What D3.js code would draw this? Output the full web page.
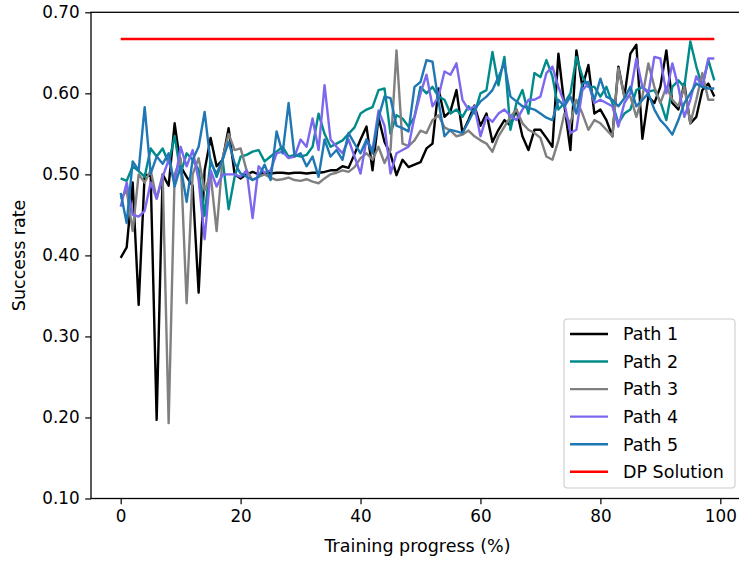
<!DOCTYPE html>
<html>
<head>
<meta charset="utf-8">
<script src="https://cdn.jsdelivr.net/npm/d3@7"></script>
<style>
  body { margin: 0; background: #fff; }
  svg text { font-family: "DejaVu Sans", sans-serif; }
</style>
</head>
<body>
<div id="svgContainer"></div>
<script>
const width = 739;
const height = 561;
const margin = ({top: 12.3, right: -5, bottom: 62.5, left: 91});

const xTicks = [0, 20, 40, 60, 80, 100];
const yTicks = [0.1, 0.2, 0.3, 0.4, 0.5, 0.6, 0.7];
const seriesNames = ["Path 1", "Path 2", "Path 3", "Path 4", "Path 5"];
const dpValue = 0.667;

const path1 = [0.397, 0.410, 0.490, 0.339, 0.500, 0.498, 0.197, 0.500, 0.486, 0.563,
  0.510, 0.497, 0.486, 0.354, 0.505, 0.545, 0.510, 0.518, 0.557, 0.500,
  0.495, 0.500, 0.503, 0.500, 0.502, 0.501, 0.502, 0.502, 0.501, 0.502,
  0.502, 0.501, 0.502, 0.502, 0.503, 0.505, 0.505, 0.510, 0.508, 0.525,
  0.543, 0.559, 0.505, 0.570, 0.540, 0.525, 0.499, 0.518, 0.509, 0.512,
  0.515, 0.532, 0.538, 0.606, 0.571, 0.578, 0.604, 0.551, 0.567, 0.585,
  0.560, 0.575, 0.540, 0.555, 0.567, 0.560, 0.580, 0.547, 0.530, 0.555,
  0.555, 0.545, 0.534, 0.649, 0.585, 0.530, 0.653, 0.608, 0.635, 0.575,
  0.580, 0.567, 0.547, 0.633, 0.596, 0.649, 0.660, 0.544, 0.596, 0.588,
  0.608, 0.653, 0.588, 0.580, 0.612, 0.563, 0.571, 0.604, 0.612, 0.596];

const path2 = [0.495, 0.492, 0.510, 0.504, 0.497, 0.532, 0.522, 0.532, 0.514, 0.547,
  0.501, 0.526, 0.518, 0.506, 0.449, 0.518, 0.497, 0.518, 0.457, 0.497,
  0.522, 0.524, 0.528, 0.530, 0.516, 0.522, 0.528, 0.534, 0.522, 0.524,
  0.522, 0.524, 0.534, 0.575, 0.550, 0.534, 0.538, 0.542, 0.550, 0.558,
  0.575, 0.580, 0.583, 0.604, 0.606, 0.550, 0.573, 0.569, 0.559, 0.571,
  0.608, 0.600, 0.608, 0.596, 0.592, 0.575, 0.580, 0.571, 0.584, 0.575,
  0.600, 0.604, 0.651, 0.610, 0.645, 0.555, 0.588, 0.604, 0.575, 0.625,
  0.620, 0.641, 0.621, 0.580, 0.588, 0.600, 0.645, 0.621, 0.608, 0.608,
  0.596, 0.608, 0.588, 0.563, 0.575, 0.580, 0.604, 0.608, 0.602, 0.604,
  0.590, 0.567, 0.608, 0.616, 0.608, 0.664, 0.633, 0.608, 0.641, 0.616];

const path3 = [0.470, 0.480, 0.430, 0.500, 0.490, 0.505, 0.470, 0.500, 0.193, 0.500,
  0.520, 0.341, 0.500, 0.520, 0.480, 0.500, 0.430, 0.520, 0.550, 0.530,
  0.532, 0.505, 0.493, 0.497, 0.500, 0.496, 0.493, 0.494, 0.496, 0.493,
  0.492, 0.494, 0.491, 0.489, 0.495, 0.500, 0.502, 0.505, 0.503, 0.509,
  0.520, 0.526, 0.518, 0.534, 0.514, 0.530, 0.653, 0.538, 0.535, 0.542,
  0.554, 0.551, 0.567, 0.573, 0.558, 0.554, 0.547, 0.549, 0.554, 0.547,
  0.542, 0.538, 0.528, 0.547, 0.559, 0.571, 0.580, 0.563, 0.555, 0.551,
  0.545, 0.522, 0.518, 0.542, 0.575, 0.563, 0.592, 0.575, 0.555, 0.567,
  0.563, 0.555, 0.547, 0.631, 0.596, 0.596, 0.571, 0.596, 0.637, 0.608,
  0.588, 0.608, 0.592, 0.584, 0.608, 0.563, 0.592, 0.625, 0.592, 0.592];

const path4 = [0.460, 0.490, 0.450, 0.448, 0.455, 0.490, 0.470, 0.497, 0.518, 0.489,
  0.534, 0.510, 0.530, 0.493, 0.420, 0.505, 0.485, 0.500, 0.500, 0.500,
  0.497, 0.505, 0.446, 0.510, 0.502, 0.505, 0.526, 0.528, 0.520, 0.522,
  0.543, 0.534, 0.569, 0.530, 0.610, 0.543, 0.534, 0.526, 0.543, 0.522,
  0.501, 0.543, 0.530, 0.579, 0.560, 0.501, 0.526, 0.530, 0.534, 0.571,
  0.600, 0.623, 0.584, 0.596, 0.627, 0.623, 0.637, 0.592, 0.580, 0.584,
  0.547, 0.571, 0.565, 0.575, 0.580, 0.572, 0.567, 0.580, 0.592, 0.592,
  0.596, 0.625, 0.633, 0.608, 0.588, 0.551, 0.555, 0.604, 0.612, 0.588,
  0.592, 0.588, 0.584, 0.559, 0.588, 0.600, 0.643, 0.608, 0.600, 0.645,
  0.643, 0.600, 0.637, 0.608, 0.571, 0.592, 0.621, 0.608, 0.643, 0.643];

const path5 = [0.477, 0.440, 0.516, 0.505, 0.583, 0.501, 0.522, 0.513, 0.526, 0.485,
  0.510, 0.466, 0.518, 0.534, 0.577, 0.514, 0.501, 0.518, 0.540, 0.514,
  0.501, 0.497, 0.493, 0.497, 0.512, 0.493, 0.553, 0.526, 0.588, 0.522,
  0.526, 0.510, 0.522, 0.497, 0.543, 0.522, 0.530, 0.518, 0.551, 0.538,
  0.526, 0.543, 0.526, 0.570, 0.596, 0.594, 0.560, 0.557, 0.553, 0.608,
  0.614, 0.641, 0.639, 0.590, 0.547, 0.555, 0.553, 0.551, 0.565, 0.580,
  0.590, 0.596, 0.604, 0.620, 0.637, 0.596, 0.590, 0.584, 0.582, 0.580,
  0.575, 0.570, 0.567, 0.592, 0.584, 0.596, 0.575, 0.612, 0.614, 0.592,
  0.618, 0.596, 0.592, 0.584, 0.594, 0.608, 0.584, 0.592, 0.600, 0.580,
  0.567, 0.559, 0.549, 0.567, 0.588, 0.600, 0.612, 0.608, 0.606, 0.606];

const seriesValues = [path1, path2, path3, path4, path5];
const colors = ["#000000", "#008b8b", "#808080", "#7b68ee", "#1f77b4"];
const dpColor = "#ff0000";

const svg = d3.select("#svgContainer").append("svg")
  .attr("width", width)
  .attr("height", height)

const x = d3.scaleLinear()
  .domain([-4.95, 103.95])
  .range([margin.left, width - margin.right])

const y = d3.scaleLinear()
  .domain([0.1, 0.7])
  .range([height - margin.bottom, margin.top])

const xAxis = g => g
  .attr("transform", `translate(0,${height - margin.bottom})`)
  .call(d3.axisBottom(x).tickValues(xTicks).tickSize(5.8).tickPadding(5.5).tickSizeOuter(0))

const yAxis = g => g
  .attr("transform", `translate(${margin.left},0)`)
  .call(d3.axisLeft(y).tickValues(yTicks).tickFormat(d3.format(".2f")).tickSize(5.8).tickPadding(5.5).tickSizeOuter(0))

const line = d3.line()
  .x((d, i) => x(i))
  .y(d => y(d))

// series, drawn in legend order so later paths sit on top
svg.append("g")
  .selectAll("path")
  .data(seriesValues)
  .join("path")
    .attr("fill", "none")
    .attr("stroke", (d, i) => colors[i])
    .attr("stroke-width", 2.4)
    .attr("stroke-linejoin", "round")
    .attr("d", line);

svg.append("line")
  .attr("x1", x(0))
  .attr("x2", x(path1.length - 1))
  .attr("y1", y(dpValue))
  .attr("y2", y(dpValue))
  .attr("stroke", dpColor)
  .attr("stroke-width", 2.4);

// spines
svg.append("rect")
  .attr("x", margin.left)
  .attr("y", margin.top)
  .attr("width", x.range()[1] - margin.left)
  .attr("height", y.range()[0] - margin.top)
  .attr("fill", "none")
  .attr("stroke", "#000")
  .attr("stroke-width", 1.3);

svg.append("g").call(xAxis)
  .call(g => g.select(".domain").remove())
  .call(g => g.selectAll("text").attr("font-size", 16.8).attr("fill", "#000"))
  .call(g => g.selectAll("line").attr("stroke-width", 1.2));

svg.append("g").call(yAxis)
  .call(g => g.select(".domain").remove())
  .call(g => g.selectAll("text").attr("font-size", 16.8).attr("fill", "#000"))
  .call(g => g.selectAll("line").attr("stroke-width", 1.2));

svg.append("text")
  .attr("x", (x.range()[0] + x.range()[1]) / 2)
  .attr("y", 552)
  .attr("text-anchor", "middle")
  .attr("font-size", 17.5)
  .text("Training progress (%)");

svg.append("text")
  .attr("transform", `translate(25,${(y.range()[0] + y.range()[1]) / 2}) rotate(-90)`)
  .attr("text-anchor", "middle")
  .attr("font-size", 17.5)
  .text("Success rate");

// legend
const legendItems = seriesNames.map((n, i) => ({name: n, color: colors[i]}))
  .concat([{name: "DP Solution", color: dpColor}]);

const legend = svg.append("g");

legend.append("rect")
  .attr("x", 564)
  .attr("y", 319)
  .attr("width", 171)
  .attr("height", 169)
  .attr("rx", 3.5)
  .attr("fill", "#fff")
  .attr("fill-opacity", 0.8)
  .attr("stroke", "#cccccc")
  .attr("stroke-width", 1.1);

const rows = legend.selectAll("g.row")
  .data(legendItems)
  .join("g")
    .attr("class", "row")
    .attr("transform", (d, i) => `translate(0,${334 + i * 27.55})`);

rows.append("line")
  .attr("x1", 570)
  .attr("x2", 608)
  .attr("stroke", d => d.color)
  .attr("stroke-width", 2.4);

rows.append("text")
  .attr("x", 623)
  .attr("dy", "0.36em")
  .attr("font-size", 17.5)
  .text(d => d.name);
</script>
</body>
</html>
